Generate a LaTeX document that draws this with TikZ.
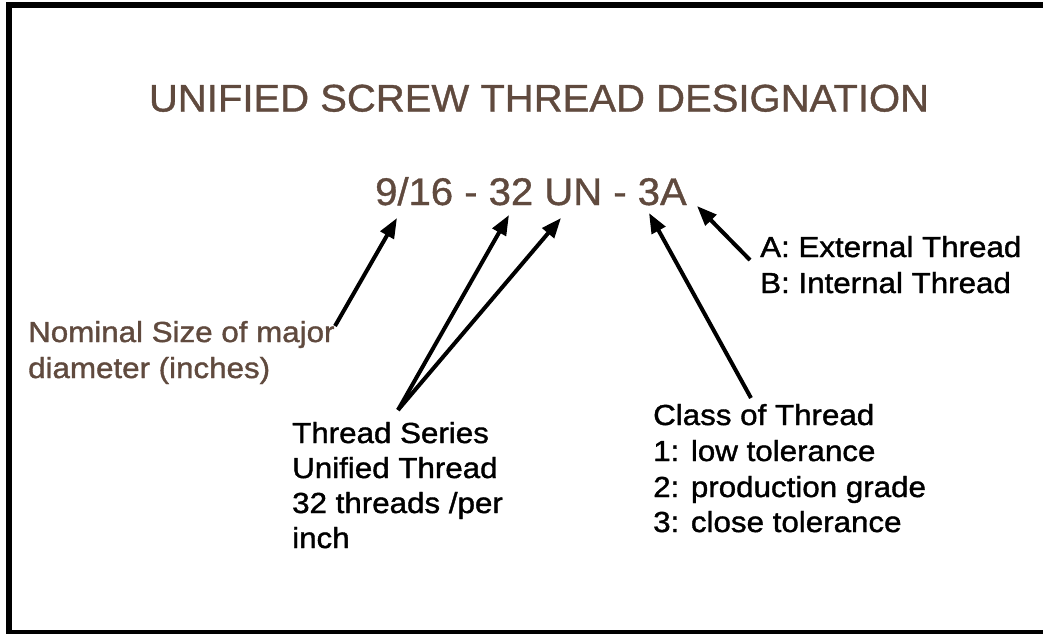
\documentclass[tikz,border=0pt]{standalone}
\usepackage{fontspec}
\setmainfont{Liberation Sans}
\newfontfamily\labfont[FakeStretch=1.08,FakeBold=1.3]{Liberation Sans}
\newfontfamily\bigfont[FakeStretch=1.04,FakeBold=1.0]{Liberation Sans}
\usetikzlibrary{arrows.meta}
\definecolor{brownT}{RGB}{96,74,62}
\begin{document}
\begin{tikzpicture}[x=1pt,y=-1pt,
  lab/.style={anchor=base west, inner sep=0pt, font=\labfont\fontsize{29}{35}\selectfont},
  big/.style={anchor=base, inner sep=0pt, font=\bigfont\fontsize{38.5}{40}\selectfont, text=brownT},
  brn/.style={text=brownT},
  arr/.style={line width=4pt, -{Triangle[length=20pt,width=15pt]}}]
\useasboundingbox (0,0) rectangle (1043,633);
\clip (0,0) rectangle (1043,633);
\draw[line width=6pt] (9,5) rectangle (1070,632.5);
% titles
\node[big] (title) at (539,111.5) {UNIFIED SCREW THREAD DESIGNATION};
\node[big] (desig) at (531,205) {9/16 - 32 UN - 3A};
% labels
\node[lab] (ext) at (760,257) {A: External Thread};
\node[lab] (int) at (760,293) {B: Internal Thread};
\node[lab,brn] (nom1) at (28,342) {Nominal Size of major};
\node[lab,brn] (nom2) at (28,378) {diameter (inches)};
\node[lab] (ser1) at (292,443) {Thread Series};
\node[lab] (ser2) at (292,478) {Unified Thread};
\node[lab] (ser3) at (292,513) {32 threads /per};
\node[lab] (ser4) at (292,548) {inch};
\node[lab] (cls1) at (653,425) {Class of Thread};
\node[lab] (cls2) at (653,461) {1: low tolerance};
\node[lab] (cls3) at (653,497) {2: production grade};
\node[lab] (cls4) at (653,532) {3: close tolerance};
% arrow ends
\coordinate (s1) at (335,326);
\coordinate (t1) at (397,218);
\coordinate (s2) at (398,410);
\coordinate (t2) at (509,215);
\coordinate (t3) at (561,218);
\coordinate (s4) at (751,398);
\coordinate (t4) at (649,213);
\coordinate (s5) at (750,260);
\coordinate (t5) at (697,206);
\draw[arr] (s1) -- (t1);
\draw[arr] (s2) -- (t2);
\draw[arr] (s2) -- (t3);
\draw[arr] (s4) -- (t4);
\draw[arr] (s5) -- (t5);
\end{tikzpicture}
\end{document}
